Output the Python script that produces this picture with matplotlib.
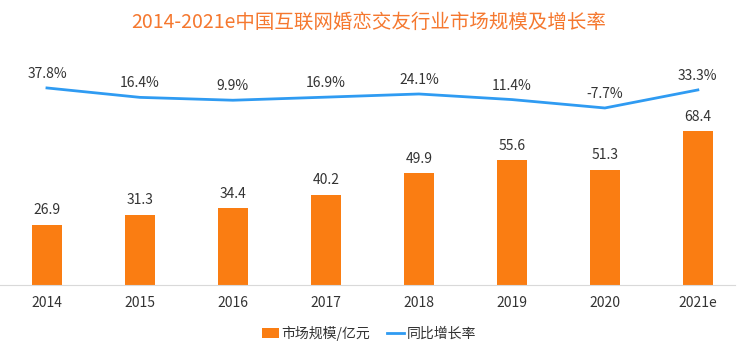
import matplotlib
matplotlib.use("Agg")
import matplotlib.pyplot as plt
import numpy as np

plt.rcParams['font.family'] = ['Noto Sans CJK SC', 'DejaVu Sans']

years = ['2014', '2015', '2016', '2017', '2018', '2019', '2020', '2021e']
market_size = [26.9, 31.3, 34.4, 40.2, 49.9, 55.6, 51.3, 68.4]
growth_rate = [37.8, 16.4, 9.9, 16.9, 24.1, 11.4, -7.7, 33.3]

bar_color = '#FA7D12'
line_color = '#2F9BF2'
text_color = '#333333'

fig = plt.figure(figsize=(7.38, 3.6), dpi=100)
ax = fig.add_axes([0.0, 0.208, 0.996, 0.625])
x = np.arange(len(years))

bars = ax.bar(x, market_size, width=0.33, color=bar_color, label='市场规模/亿元', zorder=2)
for xi, v in zip(x, market_size):
    ax.text(xi, v + 3.2, f'{v:.1f}', ha='center', va='bottom', fontsize=10, color=text_color)

ax.set_xlim(-0.505, 7.4)
ax.set_ylim(0, 100)
ax.set_yticks([])
ax.set_xticks(x)
ax.set_xticklabels(years, fontsize=10, color=text_color)
ax.tick_params(axis='x', length=0, pad=8)
for s in ['top', 'right', 'left']:
    ax.spines[s].set_visible(False)
ax.spines['bottom'].set_color('#D9D9D9')

ax2 = ax.twinx()
line, = ax2.plot(x, growth_rate, color=line_color, lw=2, label='同比增长率', zorder=3)
for xi, v in zip(x, growth_rate):
    ax2.text(xi, v + 16, f'{v:.1f}%', ha='center', va='bottom', fontsize=10, color=text_color)
ax2.set_ylim(-410, 101)
ax2.set_yticks([])
for s in ['top', 'right', 'left', 'bottom']:
    ax2.spines[s].set_visible(False)

fig.text(0.5, 0.938, '2014-2021e中国互联网婚恋交友行业市场规模及增长率', ha='center', va='center',
         fontsize=14, color='#F5782F')

fig.legend(handles=[bars, line], loc='center', bbox_to_anchor=(0.5, 0.075), ncol=2, frameon=False,
           fontsize=10, handlelength=1.2, handletextpad=0.2, columnspacing=1.2,
           labelcolor=text_color)

fig.savefig('out.png', dpi=100)
